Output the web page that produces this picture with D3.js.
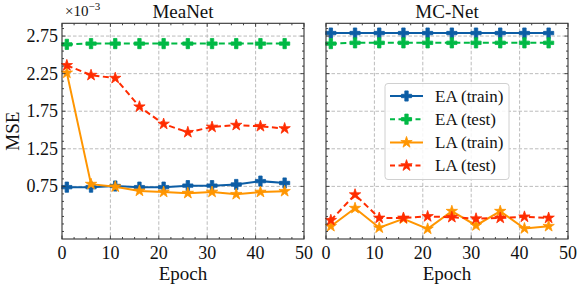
<!DOCTYPE html>
<html>
<head>
<meta charset="utf-8">
<script src="https://cdn.jsdelivr.net/npm/d3@7"></script>
<style>
  body { margin: 0; background: #fff; }
  text { font-family: "Liberation Serif", "DejaVu Serif", serif; fill: #111; }
</style>
</head>
<body>
<div id="chart"></div>
<script>
// data (MSE in units of 1e-3)
var epochs = [1, 6, 11, 16, 21, 26, 31, 36, 41, 46];
var xTicks = [0, 10, 20, 30, 40, 50];
var yTicks = [0.75, 1.25, 1.75, 2.25, 2.75];

var meaEAtrain = [0.74, 0.74, 0.755, 0.74, 0.74, 0.76, 0.76, 0.775, 0.82, 0.795];
var meaEAtest  = [2.64, 2.65, 2.65, 2.65, 2.65, 2.65, 2.65, 2.65, 2.65, 2.65];
var meaLAtrain = [2.26, 0.78, 0.745, 0.69, 0.675, 0.66, 0.675, 0.645, 0.675, 0.685];
var meaLAtest  = [2.36, 2.23, 2.19, 1.81, 1.58, 1.47, 1.54, 1.565, 1.55, 1.52];

var mcEAtrain = [2.79, 2.79, 2.79, 2.79, 2.79, 2.79, 2.79, 2.79, 2.79, 2.79];
var mcEAtest  = [2.65, 2.66, 2.66, 2.66, 2.66, 2.66, 2.66, 2.66, 2.66, 2.66];
var mcLAtrain = [0.22, 0.46, 0.20, 0.32, 0.185, 0.42, 0.23, 0.42, 0.19, 0.22];
var mcLAtest  = [0.30, 0.64, 0.33, 0.33, 0.35, 0.34, 0.32, 0.33, 0.345, 0.33];

var seriesNames = ["EA (train)", "EA (test)", "LA (train)", "LA (test)"];
var seriesColors = ["#0C5DA5", "#00B945", "#FF9500", "#FF2C00"];
var seriesDash = [null, "6,3.5", null, "6,3.5"];
var seriesMarker = ["plus", "plus", "star", "star"];

var panels = [
  {title: "MeaNet", left: 62, series: [meaEAtrain, meaEAtest, meaLAtrain, meaLAtest], ylabels: true},
  {title: "MC-Net", left: 326, series: [mcEAtrain, mcEAtest, mcLAtrain, mcLAtest], ylabels: false}
];

var W = 581, H = 287;
var pw = 242, plotTop = 23.3, plotBottom = 239;

var svg = d3.select("#chart").append("svg")
  .attr("width", W).attr("height", H);

var y = d3.scaleLinear().domain([0.05, 2.92]).range([plotBottom, plotTop]);

var yMinor = d3.range(0.15, 2.92, 0.1).filter(function(v) {
  return !yTicks.some(function(t) { return Math.abs(t - v) < 1e-6; });
});
var xMinor = d3.range(0, 50.01, 2.5).filter(function(v) { return v % 10 !== 0; });

function markerPath(kind) {
  if (kind === "plus") return d3.symbol().type(d3.symbolCross).size(58)();
  return d3.symbol().type(d3.symbolStar).size(40)();
}

panels.forEach(function(p) {
  var x = d3.scaleLinear().domain([0, 50]).range([p.left, p.left + pw]);
  var g = svg.append("g");

  // grid
  g.selectAll(".gx").data(xTicks.slice(1, -1)).enter().append("line")
    .attr("x1", function(d) { return x(d); }).attr("x2", function(d) { return x(d); })
    .attr("y1", plotTop).attr("y2", plotBottom)
    .attr("stroke", "#b4b4b4").attr("stroke-width", 0.9).attr("stroke-dasharray", "3.5,2");
  g.selectAll(".gy").data(yTicks).enter().append("line")
    .attr("x1", p.left).attr("x2", p.left + pw)
    .attr("y1", function(d) { return y(d); }).attr("y2", function(d) { return y(d); })
    .attr("stroke", "#b4b4b4").attr("stroke-width", 0.9).attr("stroke-dasharray", "3.5,2");

  // series
  p.series.forEach(function(vals, i) {
    var pts = epochs.map(function(e, j) { return [e, vals[j]]; });
    g.append("path")
      .datum(pts)
      .attr("fill", "none")
      .attr("stroke", seriesColors[i])
      .attr("stroke-width", 2)
      .attr("stroke-dasharray", seriesDash[i])
      .attr("d", d3.line().x(function(d) { return x(d[0]); }).y(function(d) { return y(d[1]); }));
    g.selectAll(".m" + i).data(pts).enter().append("path")
      .attr("transform", function(d) { return "translate(" + x(d[0]) + "," + y(d[1]) + ")"; })
      .attr("d", markerPath(seriesMarker[i]))
      .attr("fill", seriesColors[i])
      .attr("stroke", seriesColors[i])
      .attr("stroke-width", 0.8);
  });

  // ticks, inward on all four sides
  var tk = g.append("g").attr("stroke", "#333").attr("stroke-width", 0.9);
  [[xTicks, 3.5], [xMinor, 2]].forEach(function(s) {
    s[0].forEach(function(v) {
      tk.append("line").attr("x1", x(v)).attr("x2", x(v)).attr("y1", plotBottom).attr("y2", plotBottom - s[1]);
      tk.append("line").attr("x1", x(v)).attr("x2", x(v)).attr("y1", plotTop).attr("y2", plotTop + s[1]);
    });
  });
  [[yTicks, 3.5], [yMinor, 2]].forEach(function(s) {
    s[0].forEach(function(v) {
      tk.append("line").attr("x1", p.left).attr("x2", p.left + s[1]).attr("y1", y(v)).attr("y2", y(v));
      tk.append("line").attr("x1", p.left + pw).attr("x2", p.left + pw - s[1]).attr("y1", y(v)).attr("y2", y(v));
    });
  });

  // frame
  g.append("rect")
    .attr("x", p.left).attr("y", plotTop).attr("width", pw).attr("height", plotBottom - plotTop)
    .attr("fill", "none").attr("stroke", "#333").attr("stroke-width", 1.1);

  // tick labels
  g.selectAll(".xl").data(xTicks).enter().append("text")
    .attr("x", function(d) { return x(d); }).attr("y", 259)
    .attr("text-anchor", "middle").attr("font-size", 18)
    .text(function(d) { return d; });
  if (p.ylabels) {
    g.selectAll(".yl").data(yTicks).enter().append("text")
      .attr("x", p.left - 4).attr("y", function(d) { return y(d) + 6; })
      .attr("text-anchor", "end").attr("font-size", 18)
      .text(function(d) { return d3.format(".2f")(d); });
  }

  g.append("text")
    .attr("x", p.left + pw / 2).attr("y", 18)
    .attr("text-anchor", "middle").attr("font-size", 19)
    .text(p.title);
  g.append("text")
    .attr("x", p.left + pw / 2).attr("y", 280)
    .attr("text-anchor", "middle").attr("font-size", 19)
    .text("Epoch");
});

// y label and offset text
svg.append("text")
  .attr("transform", "translate(19," + ((plotTop + plotBottom) / 2) + ") rotate(-90)")
  .attr("text-anchor", "middle").attr("font-size", 19)
  .text("MSE");

var off = svg.append("text").attr("x", 65).attr("y", 16).attr("font-size", 15);
off.append("tspan").text("×10");
off.append("tspan").attr("dy", -6).attr("font-size", 11).text("−3");

// legend in the MC-Net panel
var lg = svg.append("g").attr("transform", "translate(385,83.5)");
lg.append("rect")
  .attr("width", 124).attr("height", 96).attr("rx", 3)
  .attr("fill", "#fff").attr("fill-opacity", 0.85)
  .attr("stroke", "#d0d0d0").attr("stroke-width", 1);
seriesNames.forEach(function(name, i) {
  var yy = 12.5 + i * 23.2;
  lg.append("line")
    .attr("x1", 5).attr("x2", 38).attr("y1", yy).attr("y2", yy)
    .attr("stroke", seriesColors[i]).attr("stroke-width", 2)
    .attr("stroke-dasharray", seriesDash[i] ? "5,3.5" : null);
  lg.append("path")
    .attr("transform", "translate(21.5," + yy + ")")
    .attr("d", markerPath(seriesMarker[i]))
    .attr("fill", seriesColors[i]).attr("stroke", seriesColors[i]).attr("stroke-width", 0.8);
  lg.append("text")
    .attr("x", 50).attr("y", yy + 5.5)
    .attr("font-size", 17)
    .text(name);
});
</script>
</body>
</html>
